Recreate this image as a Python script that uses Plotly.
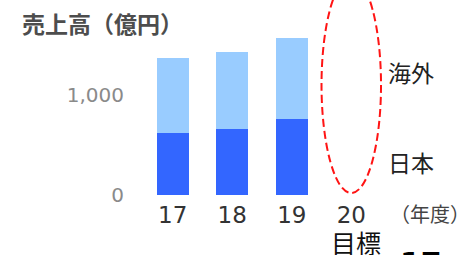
import plotly.graph_objects as go

years = ["17", "18", "19", "20"]
japan = [620, 665, 765, None]
overseas = [755, 770, 810, None]
ytick_vals = [0, 1000]
ytick_text = ["0", "1,000"]

light_blue = "#99CCFF"
dark_blue = "#3366FF"
cjk = "Noto Sans CJK JP"

fig = go.Figure()
fig.add_trace(go.Bar(x=years, y=japan, name="日本", marker_color=dark_blue,
                     marker_line_width=0))
fig.add_trace(go.Bar(x=years, y=overseas, name="海外", marker_color=light_blue,
                     marker_line_width=0))

fig.update_layout(
    width=465, height=255,
    margin=dict(l=143, r=81, t=0, b=60, autoexpand=False),
    barmode="stack", bargap=0.46,
    showlegend=False,
    plot_bgcolor="white", paper_bgcolor="white",
    title=dict(text="売上高（億円）", x=22/465, xanchor="left", xref="container",
               y=1 - 25/255, yanchor="middle", yref="container",
               font=dict(family=cjk, size=23, color="#4d4d4d", weight="bold")),
    xaxis=dict(type="category", range=[-0.5, 3.55], showgrid=False, showline=False,
               zeroline=False, ticks="", ticklabelstandoff=4, automargin=False,
               tickfont=dict(family="DejaVu Sans", size=23, color="#333333")),
    yaxis=dict(range=[0, 1950], showgrid=False, showline=False, zeroline=False,
               tickvals=ytick_vals, ticktext=ytick_text, ticks="",
               ticklabelstandoff=18, automargin=False,
               tickfont=dict(family="DejaVu Sans", size=20, color="#8a8a8a")),
)

# dashed ellipse around the target year
fig.add_shape(type="circle", xref="x", yref="y", x0=2.5, x1=3.5, y0=20, y1=2180,
              line=dict(color="#FF1414", width=2, dash="8px,4px"))

def label(text, x, y, size, color, xanchor="center", xref="paper", **kw):
    fig.add_annotation(text=text, xref=xref, yref="paper", x=x, y=y,
                       xanchor=xanchor, yanchor=kw.pop("yanchor", "middle"),
                       showarrow=False, font=dict(family=cjk, size=size, color=color),
                       **kw)

label("海外", (411-143)/241, (195-72)/195, 23, "#222222")
label("日本", (411-143)/241, (195-162)/195, 23, "#222222")
label("（年度）", (430-143)/241, (195-213)/195, 20, "#444444")
label("目標", 3, (195-242)/195, 25, "#111111", xref="x", xshift=5)
fig.add_annotation(text="17", xref="paper", yref="paper", x=(421-143)/241,
                   y=(195-244)/195, xanchor="center", yanchor="top", showarrow=False,
                   font=dict(family="DejaVu Sans", size=30, color="#000000",
                             weight="bold"))

fig.write_html("out.html", config={"displayModeBar": False},
               post_script="document.body.style.margin='0';document.body.style.overflow='hidden';")
